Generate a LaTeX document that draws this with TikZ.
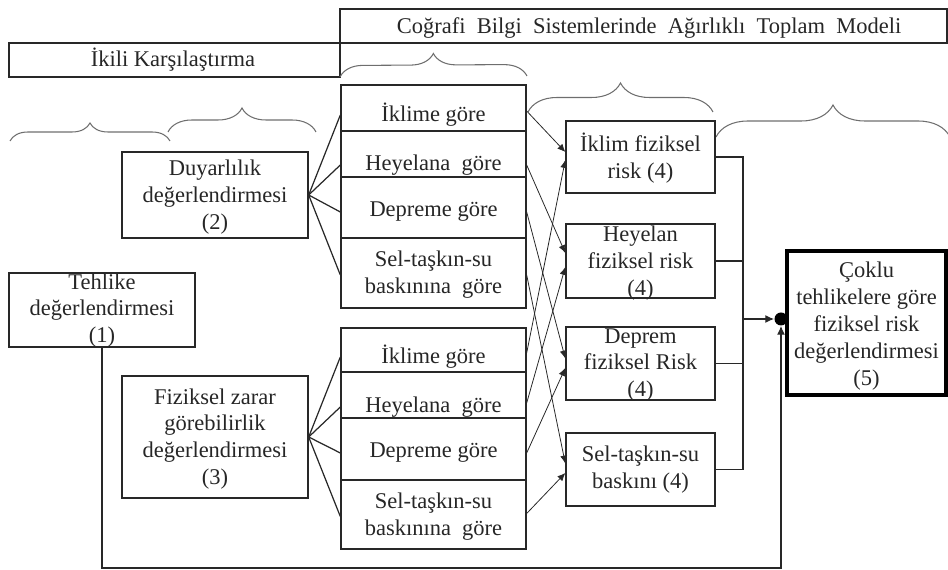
\documentclass[tikz,border=0pt]{standalone}
\usepackage{fontspec}
\setmainfont{Liberation Serif}
\usetikzlibrary{arrows.meta, decorations.pathreplacing}
\definecolor{bracegray}{RGB}{110, 110, 110}
\definecolor{linegray}{RGB}{40, 40, 40}

\begin{document}
\begin{tikzpicture}[x=0.02cm, y=-0.02cm]
      \tikzstyle{box} = [rectangle, draw=linegray, line width=0.8pt, inner sep=0pt]
      \tikzstyle{txt} = [align=center, inner sep=0pt, text=black!85, font=\fontsize{12.8}{15.3}\selectfont]
      \tikzstyle{line} = [draw=linegray, line width=0.7pt]
      \tikzstyle{cross} = [draw=linegray, -{Latex[length=4.5pt, width=4pt]}, line width=0.45pt]
      \tikzstyle{curly} = [draw=bracegray, decorate, line width=0.6pt]

      \useasboundingbox (0,0) rectangle (948,570);

      \node [box, minimum width=12.14cm, minimum height=0.68cm] (cbs) at (643.5,26) {};
      \node [txt] (tcbs) at (649,28) {Coğrafi\ \ Bilgi\ \ Sistemlerinde\ \ Ağırlıklı\ \ Toplam\ \ Modeli};
      \node [box, minimum width=6.62cm, minimum height=0.68cm] (ikili) at (174.5,60) {};
      \node [txt] (tikili) at (173,60) {İkili Karşılaştırma};

      \draw [curly, decoration={brace, amplitude=0.46cm}] (340,77) -- (527,76);
      \draw [curly, decoration={brace, amplitude=0.36cm}] (10,141) -- (170,141);
      \draw [curly, decoration={brace, amplitude=0.48cm}] (168,132) -- (316,132);
      \draw [curly, decoration={brace, amplitude=0.58cm}] (528,112) -- (713,112);
      \draw [curly, decoration={brace, amplitude=0.64cm}] (716,137) -- (950,137);

      \node [box, minimum width=3.72cm, minimum height=1.72cm] (duy) at (215,195) {};
      \node [txt] (tduy) at (215,197) {Duyarlılık\\değerlendirmesi\\(2)};
      \node [box, minimum width=3.72cm, minimum height=1.48cm] (tehlike) at (102,310) {};
      \node [txt] (tteh) at (102,310.5) {Tehlike\\değerlendirmesi\\(1)};
      \node [box, minimum width=3.72cm, minimum height=2.44cm] (fiz) at (215,437) {};
      \node [txt] (tfiz) at (215,439) {Fiziksel zarar\\görebilirlik\\değerlendirmesi\\(3)};

      \node [box, minimum width=3.7cm, minimum height=0.92cm] (u1) at (433.5,108) {};
      \node [box, minimum width=3.7cm, minimum height=0.92cm] (u2) at (433.5,154) {};
      \node [box, minimum width=3.7cm, minimum height=1.22cm] (u3) at (433.5,207.5) {};
      \node [box, minimum width=3.7cm, minimum height=1.4cm] (u4) at (433.5,273) {};
      \node [txt] (tu1) at (433.5,115) {İklime göre};
      \node [txt] (tu2) at (433.5,165) {Heyelana\ \ göre};
      \node [txt] (tu3) at (433.5,212) {Depreme göre};
      \node [txt] (tu4) at (433.5,275) {Sel-taşkın-su\\baskınına\ \ göre};

      \node [box, minimum width=3.7cm, minimum height=0.88cm] (l1) at (433.5,350) {};
      \node [box, minimum width=3.7cm, minimum height=0.92cm] (l2) at (433.5,395) {};
      \node [box, minimum width=3.7cm, minimum height=1.24cm] (l3) at (433.5,449) {};
      \node [box, minimum width=3.7cm, minimum height=1.38cm] (l4) at (433.5,514.5) {};
      \node [txt] (tl1) at (433.5,357) {İklime göre};
      \node [txt] (tl2) at (433.5,407) {Heyelana\ \ göre};
      \node [txt] (tl3) at (433.5,453) {Depreme göre};
      \node [txt] (tl4) at (433.5,516.5) {Sel-taşkın-su\\baskınına\ \ göre};

      \node [box, minimum width=2.98cm, minimum height=1.44cm] (r1) at (640.5,157) {};
      \node [box, minimum width=2.98cm, minimum height=1.48cm] (r2) at (640.5,261) {};
      \node [box, minimum width=2.98cm, minimum height=1.46cm] (r3) at (640.5,363.5) {};
      \node [box, minimum width=2.98cm, minimum height=1.46cm] (r4) at (640.5,469.5) {};
      \node [txt] (tr1) at (640.5,158) {İklim fiziksel\\risk (4)};
      \node [txt] (tr2) at (640.5,263) {Heyelan\\fiziksel risk\\(4)};
      \node [txt] (tr3) at (640.5,365) {Deprem\\fiziksel Risk\\(4)};
      \node [txt] (tr4) at (640.5,470) {Sel-taşkın-su\\baskını (4)};

      \node [box, line width=1.8pt, draw=black, minimum width=3.18cm, minimum height=2.88cm] (multi) at (866.5,323) {};
      \node [txt] (tmulti) at (866.5,326) {Çoklu\\tehlikelere göre\\fiziksel risk\\değerlendirmesi\\(5)};
      \node [circle, fill=black, inner sep=0pt, minimum size=0.26cm] (dot) at (781,319) {};

      \coordinate (bus) at (743,319);
      \coordinate (corner) at (781,568);

      \path [line] (duy.east) -- (u1.west |- tu1);
      \path [line] (duy.east) -- (u2.west |- tu2);
      \path [line] (duy.east) -- (u3.west |- tu3);
      \path [line] (duy.east) -- (u4.west |- tu4);
      \path [line] (fiz.east) -- (l1.west |- tl1);
      \path [line] (fiz.east) -- (l2.west |- tl2);
      \path [line] (fiz.east) -- (l3.west |- tl3);
      \path [line] (fiz.east) -- (l4.west |- tl4);

      \path [cross] ([yshift=0.08cm]u1.east |- tu1) -- ([yshift=0.1cm]r1.west);
      \path [cross] (u2.east |- tu2) -- ([yshift=0.16cm]r2.west);
      \path [cross] (u3.east |- tu3) -- ([yshift=0.1cm]r3.west);
      \path [cross] (u4.east |- tu4) -- ([yshift=0.12cm]r4.west);
      \path [cross] ([yshift=0.08cm]l1.east |- tl1) -- ([yshift=-0.06cm]r1.west);
      \path [cross] ([yshift=0.08cm]l2.east |- tl2) -- ([yshift=-0.12cm]r2.west);
      \path [cross] (l3.east |- tl3) -- ([yshift=-0.09cm]r3.west);
      \path [cross] ([yshift=0.06cm]l4.east |- tl4) -- ([yshift=-0.07cm]r4.west);

      \path [line] (r1.east) -| (bus);
      \path [line, line width=1.2pt] (r2.east) -| (bus);
      \path [line] (r3.east) -| (bus);
      \path [line] (r4.east) -| (bus);
      \path [line, -{Latex[length=5pt, width=4.5pt]}] (bus) -- (dot.west);
      \path [line, -{Latex[length=5pt, width=4.5pt]}] (tehlike.south) |- (corner) -- (dot.south);
    \end{tikzpicture}
\end{document}
